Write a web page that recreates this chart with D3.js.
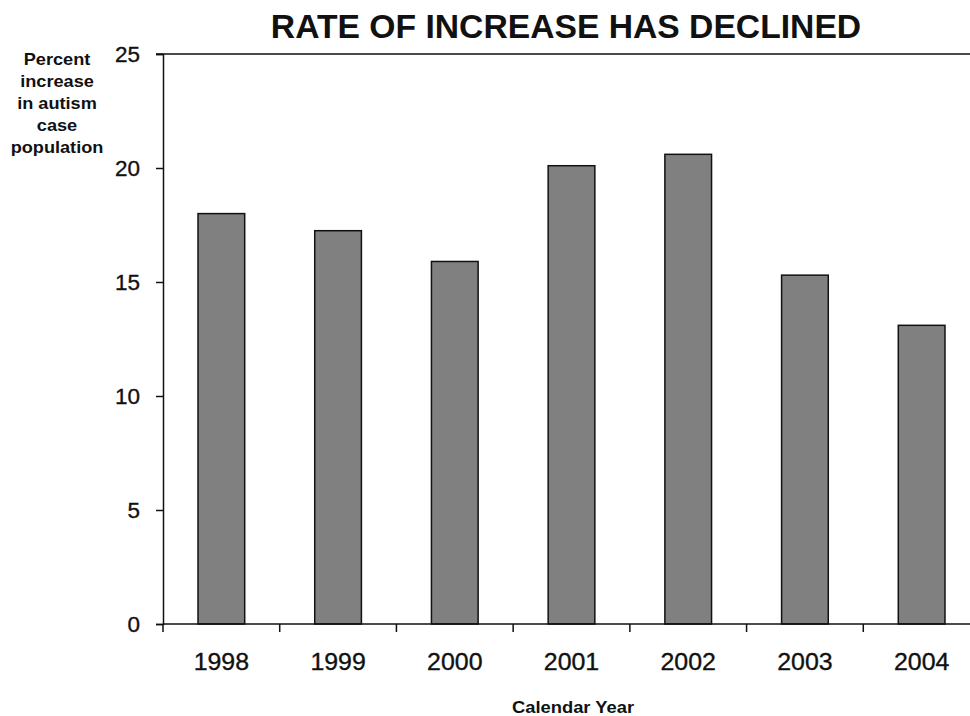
<!DOCTYPE html>
<html>
<head>
<meta charset="utf-8">
<script src="https://cdn.jsdelivr.net/npm/d3@7"></script>
<style>
  html, body { margin: 0; padding: 0; background: #fff; }
  svg { display: block; font-family: "Liberation Sans", Arial, sans-serif; }
</style>
</head>
<body>
<svg id="chart" width="970" height="716"></svg>
<script>
// Annual percent increase in the autism case population
const years = ["1998", "1999", "2000", "2001", "2002", "2003", "2004"];
const increases = [18.0, 17.25, 15.9, 20.1, 20.6, 15.3, 13.1];
const yTicks = [0, 5, 10, 15, 20, 25];
const yTitleLines = ["Percent", "increase", "in autism", "case", "population"];

const svg = d3.select("#chart");

const plotLeft = 163, plotRight = 980, plotTop = 54, plotBottom = 624;
const ink = "#111";

const x = d3.scaleBand().domain(years).range([plotLeft, plotRight]).paddingInner(0.6).paddingOuter(0.3);
const y = d3.scaleLinear().domain([0, 25]).range([plotBottom, plotTop]);

// Slightly widened text helper
function wideText(parent, cx, cy, sx) {
  return parent.append("text")
    .attr("transform", `translate(${cx},${cy}) scale(${sx},1)`)
    .attr("text-anchor", "middle")
    .attr("fill", ink);
}

// Title
wideText(svg, 566, 38, 1.02)
  .attr("font-size", 33).attr("font-weight", "bold")
  .text("RATE OF INCREASE HAS DECLINED");

// Plot top border
svg.append("line")
  .attr("x1", plotLeft - 7).attr("x2", 970)
  .attr("y1", plotTop).attr("y2", plotTop)
  .attr("stroke", ink).attr("stroke-width", 1.5);

// Bars
svg.append("g").selectAll("rect")
  .data(years.map((yr, i) => ({ yr, v: increases[i] })))
  .join("rect")
  .attr("x", d => x(d.yr))
  .attr("width", x.bandwidth())
  .attr("y", d => y(d.v))
  .attr("height", d => y(0) - y(d.v))
  .attr("fill", "#808080")
  .attr("stroke", ink)
  .attr("stroke-width", 1.5);

// Y axis
const yAxis = svg.append("g")
  .attr("transform", `translate(${plotLeft},0)`)
  .call(d3.axisLeft(y).tickValues(yTicks).tickSize(7).tickPadding(16));
yAxis.select(".domain").attr("stroke", ink).attr("stroke-width", 1.5);
yAxis.selectAll(".tick line").attr("stroke", ink).attr("stroke-width", 1.5);
yAxis.selectAll(".tick text")
  .attr("font-size", 22.5).attr("fill", ink)
  .attr("stroke", ink).attr("stroke-width", 0.35)
  .attr("font-family", "'Liberation Sans', Arial, sans-serif");

// X axis: ticks sit between categories
const xAxisG = svg.append("g").attr("transform", `translate(0,${plotBottom})`);
xAxisG.append("line")
  .attr("x1", plotLeft).attr("x2", plotRight)
  .attr("stroke", ink).attr("stroke-width", 1.5);
const boundaries = d3.range(years.length + 1).map(i => plotLeft + i * x.step());
xAxisG.selectAll("line.tk")
  .data(boundaries)
  .join("line")
  .attr("class", "tk")
  .attr("x1", d => d).attr("x2", d => d)
  .attr("y1", 0).attr("y2", 8)
  .attr("stroke", ink).attr("stroke-width", 1.5);
years.forEach(yr => {
  wideText(xAxisG, x(yr) + x.bandwidth() / 2, 46, 1.06)
    .attr("font-size", 23.5)
    .attr("stroke", ink).attr("stroke-width", 0.35)
    .text(yr);
});

// Y axis title
const yt = wideText(svg, 57, 0, 1.1)
  .attr("font-size", 16.5).attr("font-weight", "bold");
yTitleLines.forEach((ln, i) => {
  yt.append("tspan").attr("x", 0).attr("y", 65 + i * 22).text(ln);
});

// X axis title
wideText(svg, 573, 713, 1.08)
  .attr("font-size", 17).attr("font-weight", "bold")
  .text("Calendar Year");
</script>
</body>
</html>
